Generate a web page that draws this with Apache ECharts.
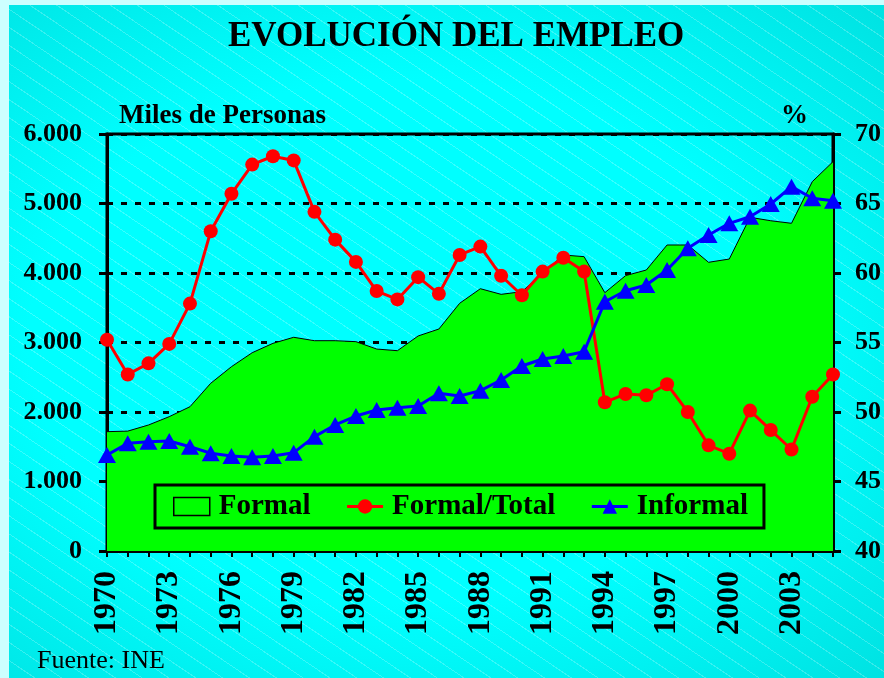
<!DOCTYPE html>
<html>
<head>
<meta charset="utf-8">
<script src="https://cdn.jsdelivr.net/npm/echarts@6/dist/echarts.min.js"></script>
<title>Evolución del empleo</title>
<style>
	html, body { margin: 0; padding: 0; }
	body { width: 884px; height: 678px; background: #ccffff; position: relative; overflow: hidden; }
	#bg {
		position: absolute; left: 9px; top: 5px; width: 875px; height: 673px;
		background:
			repeating-linear-gradient(34deg, rgba(255,255,255,0) 0px, rgba(255,255,255,0) 14px, rgba(255,255,255,0.22) 14px, rgba(255,255,255,0.22) 15px),
			radial-gradient(ellipse at 45% 50%, #00ffff 55%, #00e2e2 100%);
	}
	#c { position: absolute; left: 0; top: 0; width: 884px; height: 678px; }
</style>
</head>
<body>
<div id="bg"></div>
<div id="c"></div>
<script>
var years = ['1970','1971','1972','1973','1974','1975','1976','1977','1978','1979',
	'1980','1981','1982','1983','1984','1985','1986','1987','1988','1989',
	'1990','1991','1992','1993','1994','1995','1996','1997','1998','1999',
	'2000','2001','2002','2003','2004','2005'];
// miles de personas
var formal = [1717,1725,1813,1933,2076,2413,2652,2853,2988,3075,
	3026,3026,3012,2906,2882,3094,3194,3564,3774,3693,
	3731,3996,4259,4235,3717,3962,4043,4403,4403,4154,
	4201,4801,4752,4715,5314,5602];
var informal = [1381,1549,1573,1583,1501,1406,1367,1348,1367,1415,
	1645,1813,1942,2029,2062,2086,2269,2230,2307,2460,
	2662,2763,2806,2868,3587,3745,3827,4043,4355,4547,
	4715,4810,4993,5242,5075,5040];
// %
var formalTotal = [55.2,52.7,53.5,54.9,57.8,63.0,65.7,67.8,68.4,68.1,
	64.4,62.4,60.8,58.7,58.1,59.7,58.5,61.3,61.9,59.8,
	58.4,60.1,61.1,60.1,50.7,51.3,51.2,52.0,50.0,47.6,
	47.0,50.1,48.7,47.3,51.1,52.7];

var FONT = '"Liberation Serif", "Times New Roman", serif';
var myChart = echarts.init(document.getElementById('c'), null, {renderer: 'canvas'});
var option = {
	backgroundColor: 'transparent',
	animation: false,
	textStyle: { fontFamily: FONT, color: '#000' },
	title: [
		{ text: 'EVOLUCIÓN DEL EMPLEO', left: 228, top: 19, padding: 0,
			textStyle: { fontFamily: FONT, fontSize: 35, fontWeight: 'bold', color: '#000' } },
		{ text: 'Miles de Personas', left: 119, top: 103, padding: 0,
			textStyle: { fontFamily: FONT, fontSize: 27, fontWeight: 'bold', color: '#000' } },
		{ text: '%', left: 781, top: 103, padding: 0,
			textStyle: { fontFamily: FONT, fontSize: 27, fontWeight: 'bold', color: '#000' } },
		{ text: 'Fuente: INE', left: 37, top: 648, padding: 0,
			textStyle: { fontFamily: FONT, fontSize: 26, fontWeight: 'normal', color: '#000' } }
	],
	legend: {
		left: 155, top: 485,
		padding: [7, 16, 7, 18],
		itemGap: 35,
		itemWidth: 36, itemHeight: 18,
		borderColor: '#000', borderWidth: 3,
		textStyle: { fontFamily: FONT, fontSize: 29, fontWeight: 'bold', color: '#000', padding: [0, 0, 0, 4] },
		data: [
			{ name: 'Formal', icon: 'rect', itemStyle: { color: '#00ff00', borderColor: '#000', borderWidth: 1.5 } },
			{ name: 'Formal/Total', lineStyle: { width: 3 } },
			{ name: 'Informal', lineStyle: { width: 3 } }
		]
	},
	grid: { left: 107, right: 50, top: 134, bottom: 127, show: true, borderColor: '#000', borderWidth: 3, backgroundColor: 'transparent' },
	xAxis: {
		type: 'category',
		data: years,
		boundaryGap: false,
		axisLine: { lineStyle: { color: '#000', width: 3 } },
		axisTick: { interval: 0, length: 6, lineStyle: { color: '#000', width: 2 } },
		axisLabel: { interval: 2, rotate: 90, margin: 20, fontFamily: FONT, fontSize: 32, fontWeight: 'bold', color: '#000' }
	},
	yAxis: [
		{
			type: 'value', min: 0, max: 6000, interval: 1000,
			axisLine: { show: true, lineStyle: { color: '#000', width: 3 } },
			axisTick: { show: true, length: 8, lineStyle: { color: '#000', width: 3 } },
			axisLabel: { margin: 25, fontFamily: FONT, fontSize: 26, fontWeight: 'bold', color: '#000',
				formatter: function (v) { return v === 0 ? '0' : (v / 1000) + '.000'; } },
			splitLine: { show: true, lineStyle: { color: '#000', width: 3, type: [6, 8] } }
		},
		{
			type: 'value', min: 40, max: 70, interval: 5,
			axisLine: { show: true, lineStyle: { color: '#000', width: 3 } },
			axisTick: { show: true, length: 8, lineStyle: { color: '#000', width: 3 } },
			axisLabel: { margin: 22, fontFamily: FONT, fontSize: 26, fontWeight: 'bold', color: '#000' },
			splitLine: { show: false }
		}
	],
	series: [
		{
			name: 'Formal', type: 'line', yAxisIndex: 0, data: formal,
			symbol: 'none', z: 1,
			lineStyle: { color: '#000', width: 1 },
			itemStyle: { color: '#00ff00' },
			areaStyle: { color: '#00ff00', opacity: 1 }
		},
		{
			name: 'Formal/Total', type: 'line', yAxisIndex: 1, data: formalTotal,
			symbol: 'circle', symbolSize: 14, showAllSymbol: true, z: 3,
			lineStyle: { color: '#ff0000', width: 3 },
			itemStyle: { color: '#ff0000' }
		},
		{
			name: 'Informal', type: 'line', yAxisIndex: 0, data: informal,
			symbol: 'triangle', symbolSize: [18, 16], showAllSymbol: true, z: 4,
			lineStyle: { color: '#0000ff', width: 3 },
			itemStyle: { color: '#0000ff' }
		}
	]
};
myChart.setOption(option);
</script>
</body>
</html>
